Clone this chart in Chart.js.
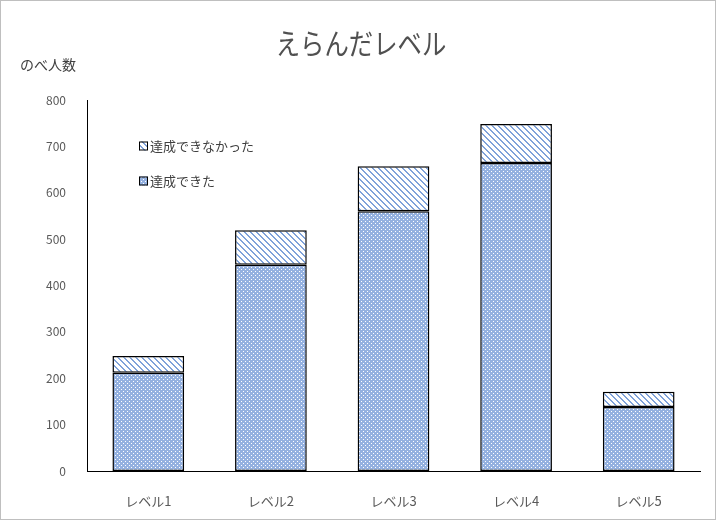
<!DOCTYPE html>
<html>
<head>
<meta charset="utf-8">
<script src="https://cdn.jsdelivr.net/npm/chart.js@4.4.1/dist/chart.umd.min.js"></script>
<style>
  html, body { margin: 0; padding: 0; background: #fff; }
  #wrap { width: 716px; height: 520px; box-sizing: border-box; border: 1px solid #bfbfbf; position: relative; }
  canvas { display: block; }
</style>
</head>
<body>
<div id="wrap"><canvas id="chart" width="714" height="518"></canvas></div>
<script>
const levels = ['レベル1', 'レベル2', 'レベル3', 'レベル4', 'レベル5'];
const achieved = [212, 445, 560, 664, 138];
const notAchieved = [36, 74, 97, 84, 33];
const yTicks = [0, 100, 200, 300, 400, 500, 600, 700, 800];

const FONT = '"Noto Sans CJK JP", "Noto Sans", sans-serif';

// dotted fill for 達成できた
function dotPattern() {
  const c = document.createElement('canvas');
  c.width = 4; c.height = 4;
  const g = c.getContext('2d');
  g.fillStyle = '#94b1e0';
  g.fillRect(0, 0, 4, 4);
  g.fillStyle = '#ffffff';
  g.fillRect(0, 0, 1, 1);
  g.fillRect(2, 2, 1, 1);
  return g.createPattern(c, 'repeat');
}

// diagonal stripes for 達成できなかった
function stripePattern() {
  const c = document.createElement('canvas');
  c.width = 6; c.height = 6;
  const g = c.getContext('2d');
  g.fillStyle = '#ffffff';
  g.fillRect(0, 0, 6, 6);
  g.fillStyle = '#7fa2da';
  for (let i = 0; i < 6; i++) {
    g.fillRect(i, i, 1, 1);
    g.fillRect((i + 1) % 6, i, 1, 1);
  }
  return g.createPattern(c, 'repeat');
}

const fillDone = dotPattern();
const fillNotDone = stripePattern();

/* タイトル・軸ラベル・凡例を描く */
const decor = {
  id: 'decor',
  afterDraw(chart) {
    const ctx = chart.ctx;
    ctx.save();
    ctx.fillStyle = '#505050';
    ctx.font = '29px ' + FONT;
    ctx.textAlign = 'center';
    ctx.textBaseline = 'middle';
    // title font is a condensed face in the original
    ctx.save();
    ctx.translate(360, 43);
    ctx.scale(0.84, 1);
    ctx.fillText('えらんだレベル', 0, 0);
    ctx.restore();

    ctx.fillStyle = '#404040';
    ctx.font = '14px ' + FONT;
    ctx.textAlign = 'left';
    ctx.fillText('のべ人数', 19, 64);

    const items = [
      { text: '達成できなかった', fill: fillNotDone, y: 145 },
      { text: '達成できた', fill: fillDone, y: 180 }
    ];
    items.forEach(it => {
      ctx.fillStyle = it.fill;
      ctx.fillRect(138, it.y - 4.5, 9, 9);
      ctx.strokeStyle = '#000';
      ctx.lineWidth = 1;
      ctx.strokeRect(138.5, it.y - 4, 8, 8);
      ctx.fillStyle = '#404040';
      ctx.font = '13px ' + FONT;
      ctx.textBaseline = 'middle';
      ctx.fillText(it.text, 149, it.y);
    });
    ctx.restore();
  }
};

new Chart(document.getElementById('chart'), {
  type: 'bar',
  data: {
    labels: levels,
    datasets: [
      {
        label: '達成できた',
        data: achieved,
        backgroundColor: fillDone,
        borderColor: '#000',
        borderWidth: 1.5,
        borderSkipped: false
      },
      {
        label: '達成できなかった',
        data: notAchieved,
        backgroundColor: fillNotDone,
        borderColor: '#000',
        borderWidth: 1.5,
        borderSkipped: false
      }
    ]
  },
  options: {
    responsive: false,
    animation: false,
    layout: { padding: { top: 99, left: 0, right: 15, bottom: 0 } },
    categoryPercentage: 1,
    barPercentage: 0.585,
    scales: {
      x: {
        stacked: true,
        grid: { display: false },
        border: { display: true, color: '#000', width: 1 },
        ticks: { color: '#595959', font: { family: FONT, size: 13 }, padding: 14 },
        afterFit(scale) { scale.height = 48; }
      },
      y: {
        stacked: true,
        min: 0,
        max: 800,
        afterBuildTicks(scale) { scale.ticks = yTicks.map(v => ({ value: v })); },
        grid: { display: false },
        border: { display: true, color: '#000', width: 1 },
        ticks: { color: '#595959', font: { family: FONT, size: 12 }, padding: 13 },
        afterFit(scale) { scale.width = 86; }
      }
    },
    plugins: {
      legend: { display: false },
      tooltip: { enabled: false }
    }
  },
  plugins: [decor]
});
</script>
</body>
</html>
